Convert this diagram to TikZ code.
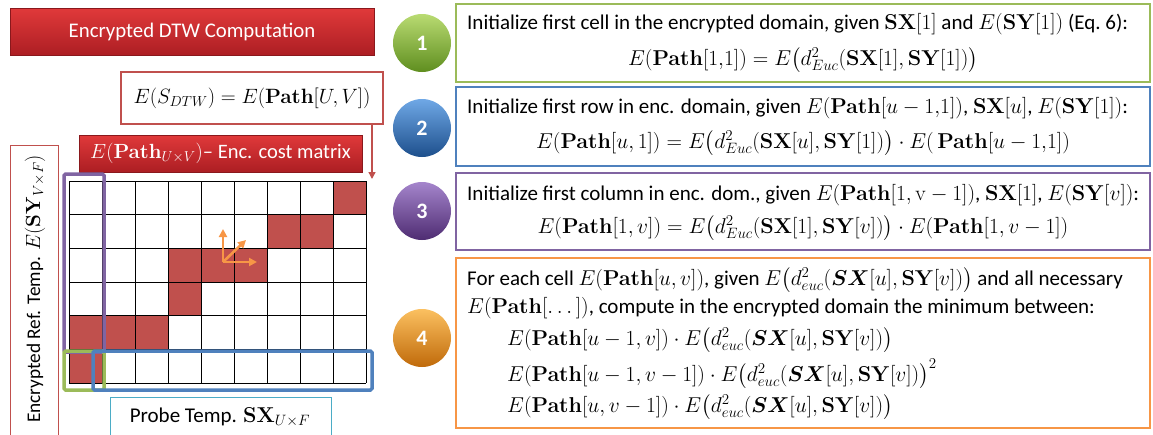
\RequirePackage{fix-cm}
\documentclass[tikz,border=0pt]{standalone}
\usepackage{amsmath,bm}
\usepackage[no-math]{fontspec}
\setmainfont{Carlito}
\usetikzlibrary{arrows.meta}
\definecolor{cred}{HTML}{C0504D}
\definecolor{tred1}{HTML}{E0393A}
\definecolor{tred2}{HTML}{AC1E23}
\definecolor{cgreen}{HTML}{9BBB59}
\definecolor{cblue}{HTML}{4F81BD}
\definecolor{cpurple}{HTML}{8064A2}
\definecolor{corange}{HTML}{F79646}
\definecolor{ccyan}{HTML}{4BACC6}
\definecolor{g1}{HTML}{B9DB72}\definecolor{g2}{HTML}{8DC03C}\definecolor{g3}{HTML}{5F8E1F}
\definecolor{bl1}{HTML}{6FA8E6}\definecolor{bl2}{HTML}{2E78C8}\definecolor{bl3}{HTML}{1D4F8C}
\definecolor{p1}{HTML}{A585CC}\definecolor{p2}{HTML}{74489E}\definecolor{p3}{HTML}{4E2C72}
\definecolor{o1}{HTML}{FBC060}\definecolor{o2}{HTML}{F2941C}\definecolor{o3}{HTML}{C06A0A}
\DeclareMathSizes{21}{21.5}{15}{11}
\DeclareMathSizes{19.3}{20.5}{14.5}{10}
\newcommand\txtsz{\fontsize{21}{25}\selectfont}
\newcommand\bP{\mathbf{Path}}
\newcommand\bSX{\mathbf{SX}}
\newcommand\bSY{\mathbf{SY}}
\newcommand\iSX{\boldsymbol{SX}}
\begin{document}
\begin{tikzpicture}[x=1pt,y=-1pt,
  txt/.style={inner sep=0pt,font=\txtsz},
  redbar/.style={rectangle,top color=tred1,bottom color=tred2,draw=tred2!80!black,line width=0.6pt,text=white,inner sep=0pt},
  wbox/.style={rectangle,draw,fill=white,line width=1.6pt,inner sep=0pt},
  ball/.style={circle,minimum size=58pt,inner sep=0pt,text=white,font=\fontsize{22}{24}\selectfont\bfseries},
  gline/.style={black,line width=0.9pt},
  hl/.style={line width=3.5pt,rounded corners=1.5pt},
  oarr/.style={corange,line width=2.6pt,-{Triangle[length=8pt,width=8pt]}}]
\clip (0,0) rectangle (1153,434);
\useasboundingbox (0,0) rectangle (1153,434);
\fill[white] (0,0) rectangle (1153,434);

% ---- left part
\node[redbar,minimum width=364pt,minimum height=47pt,font=\fontsize{20.8}{24}\selectfont] (title) at (192,32) {Encrypted DTW Computation};
\node[wbox,draw=cred,minimum width=262pt,minimum height=52pt,font=\fontsize{20.7}{24}\selectfont] (sdtw) at (252,98) {$E(S_{DTW})=E(\bP[U,V])$};
\node[redbar,minimum width=283pt,minimum height=37pt,font=\fontsize{20.5}{24}\selectfont] (cost) at (220.5,153.5) {$E(\mathbf{Path}_{U\times V})$-- Enc. cost matrix};
\coordinate (arrend) at (372,179);
\draw[cred,line width=1.4pt,-{Triangle[length=7pt,width=7pt]}] (sdtw.south -| arrend) -- (arrend);

\node[wbox,draw=cred,line width=1.2pt,minimum width=48pt,minimum height=300pt,anchor=north west] (leftbox) at (10,145) {};
\node[txt,rotate=90,font=\fontsize{19.3}{23}\selectfont] (lefttxt) at (35,289) {Encrypted Ref. Temp. $E(\bSY_{V\times F})$};

% grid
\foreach \c/\r in {9/1,7/2,8/2,4/3,5/3,6/3,4/4,1/5,2/5,3/5,1/6}
  \fill[cred] ({69+33*(\c-1)},{181+33.67*(\r-1)}) rectangle ++(33,33.67);
\foreach \i in {0,...,9} \draw[gline] ({69+33*\i},181) -- ({69+33*\i},383);
\foreach \j in {0,...,6} \draw[gline] (69,{181+33.67*\j}) -- (366,{181+33.67*\j});
\node[draw=none,inner sep=0pt,minimum width=297pt,minimum height=202pt] (grid) at (217.5,282) {};

\draw[hl,cpurple] (64,352) rectangle (104,174);
\draw[hl,cgreen] (64,351) rectangle (104,390);
\draw[hl,cblue] (93,351) rectangle (372,390);

\coordinate (o) at (223,262);
\coordinate (ou) at (223,229);
\coordinate (od) at (246,240);
\coordinate (or) at (257,262);
\draw[oarr] (o) -- (ou);
\draw[oarr] (o) -- (od);
\draw[oarr] (o) -- (or);

\node[wbox,draw=ccyan,line width=1.4pt,minimum width=221pt,minimum height=50pt,anchor=north west] (probe) at (110,397) {};
\node[txt,anchor=base] (probetxt) at (220,422) {Probe Temp. $\bSX_{U\times F}$};

% ---- right part
\node[wbox,draw=cgreen,line width=2pt,minimum width=694pt,minimum height=78pt] (b1) at (803,43) {};
\node[wbox,draw=cblue,line width=2pt,minimum width=694pt,minimum height=79pt] (b2) at (803,126.5) {};
\node[wbox,draw=cpurple,line width=2pt,minimum width=694pt,minimum height=77pt] (b3) at (803,211.5) {};
\node[wbox,draw=corange,line width=2pt,minimum width=694pt,minimum height=170pt] (b4) at (803,343) {};

\node[ball,top color=g1,middle color=g2,bottom color=g3] (c1) at (422,43) {1};
\node[ball,top color=bl1,middle color=bl2,bottom color=bl3] (c2) at (422,128) {2};
\node[ball,top color=p1,middle color=p2,bottom color=p3] (c3) at (422,211) {3};
\node[ball,top color=o1,middle color=o2,bottom color=o3] (c4) at (422,338) {4};

\node[txt,anchor=base west] (l11) at (467,29) {Initialize first cell in the encrypted domain, given $\bSX[1]$ and $E(\bSY[1])$ (Eq.~6):};
\node[txt,anchor=base] (l12) at (803,65) {$E(\bP[1{,}1])=E\bigl(d^2_{Euc}(\bSX[1],\bSY[1])\bigr)$};

\node[txt,anchor=base west] (l21) at (467,113) {Initialize first row in enc. domain, given $E(\bP[u-1{,}1])$,\ $\bSX[u]$, $E(\bSY[1])$:};
\node[txt,anchor=base] (l22) at (803,148) {$E(\bP[u,1])=E\bigl(d^2_{Euc}(\bSX[u],\bSY[1])\bigr)\cdot E(\,\bP[u-1{,}1])$};

\node[txt,anchor=base west] (l31) at (467,200) {Initialize first column in enc. dom., given $E(\bP[1,\mathrm{v}-1])$,\ $\bSX[1]$, $E(\bSY[v])$:};
\node[txt,anchor=base] (l32) at (803,233) {$E(\bP[1,v])=E\bigl(d^2_{Euc}(\bSX[1],\bSY[v])\bigr)\cdot E(\bP[1,v-1])$};

\node[txt,anchor=base west] (l41) at (467,285) {For each cell $E(\bP[u,v])$, given $E\bigl(d^2_{euc}(\iSX[u],\bSY[v])\bigr)$ and all necessary};
\node[txt,anchor=base west] (l42) at (467,313) {$E(\bP[\dots])$, compute in the encrypted domain the minimum between:};
\node[txt,anchor=base west] (l43) at (507,345) {$E(\bP[u-1,v])\cdot E\bigl(d^2_{euc}(\iSX[u],\bSY[v])\bigr)$};
\node[txt,anchor=base west] (l44) at (507,381) {$E(\bP[u-1,v-1])\cdot E\bigl(d^2_{euc}(\iSX[u],\bSY[v])\bigr)^2$};
\node[txt,anchor=base west] (l45) at (507,412) {$E(\bP[u,v-1])\cdot E\bigl(d^2_{euc}(\iSX[u],\bSY[v])\bigr)$};
\end{tikzpicture}
\end{document}
